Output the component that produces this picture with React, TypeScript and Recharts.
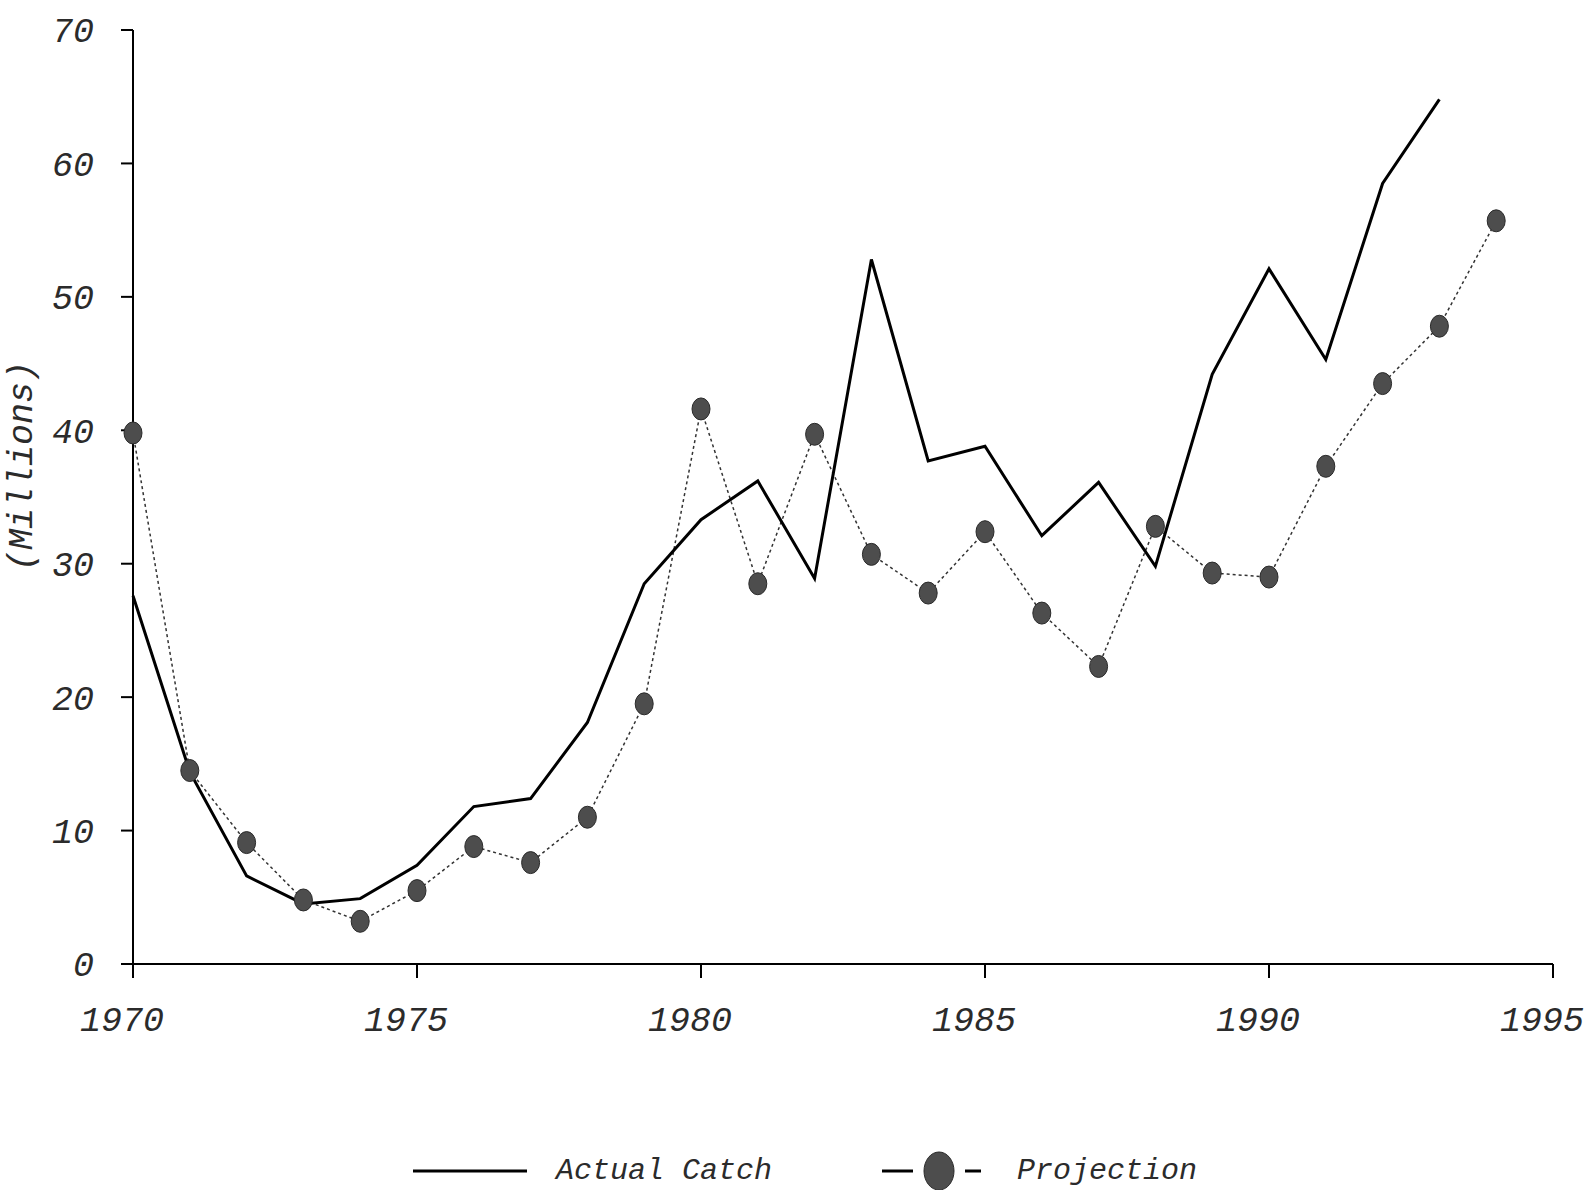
import { LineChart, Line, XAxis, YAxis, Legend } from "recharts";

const years = [
  1970, 1971, 1972, 1973, 1974, 1975, 1976, 1977, 1978, 1979, 1980, 1981, 1982,
  1983, 1984, 1985, 1986, 1987, 1988, 1989, 1990, 1991, 1992, 1993, 1994,
];

// millions
const actualCatch = [
  27.6, 14.4, 6.6, 4.5, 4.9, 7.4, 11.8, 12.4, 18.1, 28.5, 33.3, 36.2, 28.9,
  52.8, 37.7, 38.8, 32.1, 36.1, 29.8, 44.2, 52.1, 45.3, 58.5, 64.8, null,
];

const projection = [
  39.8, 14.5, 9.1, 4.8, 3.2, 5.5, 8.8, 7.6, 11.0, 19.5, 41.6, 28.5, 39.7, 30.7,
  27.8, 32.4, 26.3, 22.3, 32.8, 29.3, 29.0, 37.3, 43.5, 47.8, 55.7,
];

const xTicks = [1970, 1975, 1980, 1985, 1990, 1995];
const yTicks = [0, 10, 20, 30, 40, 50, 60, 70];

const data = years.map((year, i) => ({
  year,
  actual: actualCatch[i],
  projection: projection[i],
}));

const FONT = '"Liberation Mono", "Courier New", monospace';
const INK = "#2b2b2b";
const DOT = "#4d4d4d";

const tickStyle = {
  fontSize: 35,
  fontStyle: "italic",
  fontFamily: FONT,
  fill: INK,
};

function ProjectionDot(props: any) {
  const { cx, cy, index } = props;
  if (cx == null || cy == null) return null;
  return (
    <ellipse
      key={`dot-${index}`}
      cx={cx}
      cy={cy}
      rx={9}
      ry={11}
      fill={DOT}
      stroke="#2a2a2a"
      strokeWidth={1}
    />
  );
}

function ChartLegend() {
  const textStyle = {
    fontSize: 30,
    fontStyle: "italic" as const,
    fontFamily: FONT,
    fill: INK,
  };
  return (
    <svg width={1590} height={50}>
      <line x1={413} x2={527} y1={25} y2={25} stroke="#000" strokeWidth={3} />
      <text x={556} y={25} dominantBaseline="central" style={textStyle}>
        Actual Catch
      </text>
      <line x1={882} x2={913} y1={25} y2={25} stroke="#000" strokeWidth={3} />
      <ellipse cx={939} cy={25} rx={15} ry={19} fill={DOT} stroke="#2a2a2a" />
      <line x1={965} x2={981} y1={25} y2={25} stroke="#000" strokeWidth={3} />
      <text x={1017} y={25} dominantBaseline="central" style={textStyle}>
        Projection
      </text>
    </svg>
  );
}

export default function App() {
  return (
    <div
      style={{
        position: "absolute",
        left: 0,
        top: 0,
        width: 1590,
        height: 1190,
        background: "#fff",
      }}
    >
      <LineChart
        width={1590}
        height={1190}
        data={data}
        margin={{ top: 30, right: 37, left: 53, bottom: 116 }}
      >
        <XAxis
          dataKey="year"
          type="number"
          domain={[1970, 1995]}
          ticks={xTicks}
          height={60}
          tick={{ ...tickStyle, dx: -11 }}
          tickSize={14}
          tickMargin={28}
          axisLine={{ stroke: "#000", strokeWidth: 2 }}
          tickLine={{ stroke: "#000", strokeWidth: 2 }}
        />
        <YAxis
          type="number"
          domain={[0, 70]}
          ticks={yTicks}
          width={80}
          tick={tickStyle}
          tickSize={12}
          tickMargin={27}
          axisLine={{ stroke: "#000", strokeWidth: 2 }}
          tickLine={{ stroke: "#000", strokeWidth: 2 }}
          label={{
            content: () => (
              <text
                x={23}
                y={466}
                transform="rotate(-90 23 466)"
                textAnchor="middle"
                dominantBaseline="central"
                style={{
                  fontSize: 35,
                  fontStyle: "italic",
                  fontFamily: FONT,
                  fill: INK,
                }}
              >
                (Millions)
              </text>
            ),
          }}
        />
        <Legend
          verticalAlign="bottom"
          height={50}
          wrapperStyle={{ top: 1146, bottom: "auto", left: 0, width: 1590 }}
          content={() => <ChartLegend />}
        />
        <Line
          type="linear"
          dataKey="projection"
          name="Projection"
          stroke="#333"
          strokeWidth={1.5}
          strokeDasharray="3 3"
          dot={ProjectionDot}
          activeDot={false}
          isAnimationActive={false}
        />
        <Line
          type="linear"
          dataKey="actual"
          name="Actual Catch"
          stroke="#000"
          strokeWidth={3}
          dot={false}
          activeDot={false}
          isAnimationActive={false}
        />
      </LineChart>
    </div>
  );
}
